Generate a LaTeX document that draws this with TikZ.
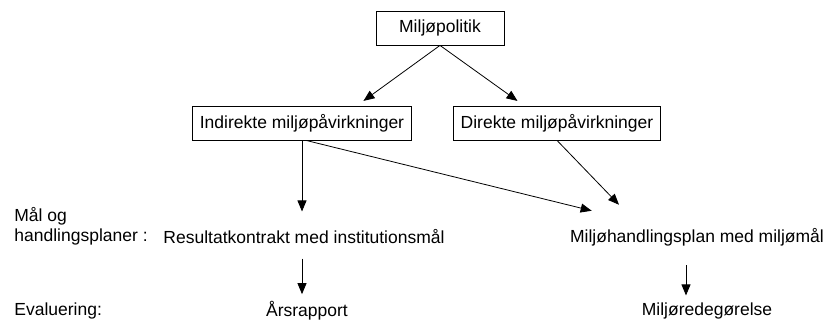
\documentclass[tikz,border=0pt]{standalone}
\usepackage{fontspec}
\setmainfont{Liberation Sans}
\usetikzlibrary{arrows.meta}

\begin{document}
\begin{tikzpicture}[x=1pt,y=-1pt,line width=0.8pt,
    box/.style={draw,line width=0.8pt,minimum height=34pt,inner xsep=7pt},
    lbl/.style={inner sep=0pt,anchor=west},
    pil/.style={-{Triangle[length=11pt,width=9pt]}}]
            % Define the font and the frame
            \def\fs{\fontsize{17.5}{21}\selectfont}
            \useasboundingbox (0,0) rectangle (828,322);

            % Calculate the coordinates of the points
            \coordinate (P0) at (440, 28);
            \coordinate (PI) at (302, 123);
            \coordinate (PD) at (557, 123);
            \coordinate (PR) at (304, 237);
            \coordinate (PM) at (697, 237);
            \coordinate (PA) at (307, 311);
            \coordinate (PE) at (707, 311);

            % Draw the boxes
            \node[box,minimum width=128pt] (mp) at (P0) {\fs Miljøpolitik};
            \node[box] (ind) at (PI) {\fs Indirekte miljøpåvirkninger};
            \node[box] (dir) at (PD) {\fs Direkte miljøpåvirkninger};

            % Draw the plans and reports
            \node[inner sep=0pt] (res) at (PR) {\fs Resultatkontrakt med institutionsmål};
            \node[inner sep=0pt] (mhp) at (PM) {\fs Miljøhandlingsplan med miljømål};
            \node[inner sep=0pt] (aar) at (PA) {\fs Årsrapport};
            \node[inner sep=0pt] (red) at (PE) {\fs Miljøredegørelse};

            % Draw the row labels
            \node[lbl] (maal) at (14, 216) {\fs Mål og};
            \node[lbl] (hpl)  at (14, 237) {\fs handlingsplaner :};
            \node[lbl] (eva)  at (14, 311) {\fs Evaluering:};

            % Draw the arrows
            \draw[pil,shorten >=8pt] (mp.south) -- ([xshift=55pt]ind.north);
            \draw[pil,shorten >=8pt] (mp.south) -- ([xshift=-33pt]dir.north);
            \draw[pil,shorten >=18pt] (ind.south) -- (ind.south |- res.north);
            \draw[pil] ([xshift=4pt]ind.south) -- ([xshift=22pt,yshift=17pt]mhp.north west);
            \draw[pil] (dir.south) -- ([xshift=-78pt,yshift=23pt]mhp.north);
            \draw[pil] ([yshift=-14pt]res.south -| ind.south) -- ([yshift=7pt]aar.north -| ind.south);
            \draw[pil] ([xshift=-11pt,yshift=-19pt]mhp.south) -- ([xshift=-21pt,yshift=7pt]red.north);
\end{tikzpicture}
\end{document}
